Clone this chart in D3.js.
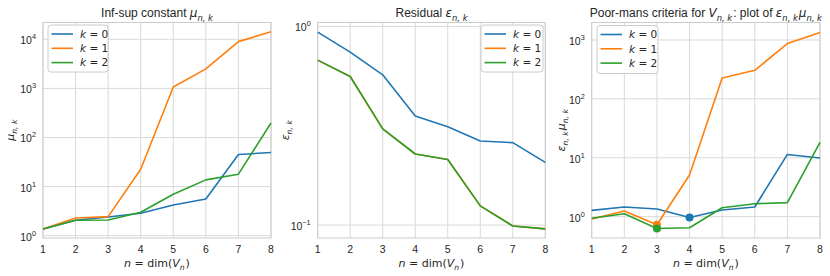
<!DOCTYPE html>
<html><head><meta charset="utf-8">
<script src="https://cdn.jsdelivr.net/npm/d3@7"></script>
<style>body{margin:0;background:#fff}svg{display:block}</style>
</head><body><svg id="c" width="830" height="276"></svg>
<script>
// ---- data ----
const nVals = [1, 2, 3, 4, 5, 6, 7, 8];
const kLabels = ["0", "1", "2"];
const mu0 = [1.37, 2.06, 2.40, 2.87, 4.23, 5.6, 45, 49.4];
const mu1 = [1.37, 2.30, 2.44, 22.6, 1070, 2500, 8960, 14200];
const mu2 = [1.37, 2.06, 2.09, 3.0, 7.0, 13.7, 17.9, 197];
const eps0 = [0.937, 0.743, 0.571, 0.354, 0.313, 0.265, 0.260, 0.207];
const eps1 = [0.677, 0.56, 0.305, 0.228, 0.214, 0.125, 0.099, 0.0957];
const eps2 = [0.677, 0.56, 0.305, 0.228, 0.214, 0.125, 0.099, 0.0957];
const prod0 = [1.28, 1.46, 1.35, 0.97, 1.30, 1.46, 11.4, 9.9];
const prod1 = [0.91, 1.25, 0.73, 5.1, 227, 306, 870, 1335];
const prod2 = [0.94, 1.12, 0.63, 0.65, 1.42, 1.66, 1.73, 18.3];
const xTicks = [1, 2, 3, 4, 5, 6, 7, 8];
const colors = ["#1f77b4", "#ff7f0e", "#2ca02c"];

const RF = "'Liberation Sans', Arial, sans-serif";
const MF = "'DejaVu Sans', sans-serif";
const TXT = "#262626";
const svg = d3.select("#c");
const yTop = 22.5, yBot = 238;

function mathText(sel, segs, fs) {
  let off = 0, prevSub = false;
  segs.forEach(s => {
    const size = (s.sub || s.sup) ? fs * 0.7 : fs;
    const target = s.sub ? fs * 0.3 : (s.sup ? -fs * 0.45 : 0);
    const ts = sel.append("tspan").text(s.t)
      .attr("font-size", size)
      .attr("font-family", s.f || MF)
      .attr("font-style", s.it ? "italic" : "normal");
    if (target !== off) { ts.attr("dy", target - off); off = target; }
    if (prevSub && !s.sub) ts.attr("dx", fs * 0.08);
    prevSub = !!s.sub;
  });
}

const panels = [
  { x0: 43, x1: 271, dom: [-0.047, 4.342], series: [mu0, mu1, mu2], ticks: [0, 1, 2, 3, 4],
    title: [{t: "Inf-sup constant ", f: RF}, {t: "μ", it: 1}, {t: "n, k", it: 1, sub: 1}],
    ylab: [{t: "μ", it: 1}, {t: "n, k", it: 1, sub: 1}], ylx: 10,
    leg: { x: 48, y: 25, w: 60, h: 47 }, markers: false },
  { x0: 317.7, x1: 545.3, dom: [-1.065, 0.02], series: [eps0, eps1, eps2], ticks: [-1, 0],
    title: [{t: "Residual ", f: RF}, {t: "ε", it: 1}, {t: "n, k", it: 1, sub: 1}],
    ylab: [{t: "ε", it: 1}, {t: "n, k", it: 1, sub: 1}], ylx: 285,
    leg: { x: 481, y: 25, w: 62, h: 47 }, markers: false },
  { x0: 591.7, x1: 820, dom: [-0.362, 3.297], series: [prod0, prod1, prod2], ticks: [0, 1, 2, 3],
    title: [{t: "Poor-mans criteria for ", f: RF}, {t: "V", it: 1}, {t: "n, k", it: 1, sub: 1}, {t: ": plot of ", f: RF}, {t: "ε", it: 1}, {t: "n, k", it: 1, sub: 1}, {t: "μ", it: 1}, {t: "n, k", it: 1, sub: 1}],
    ylab: [{t: "ε", it: 1}, {t: "n, k", it: 1, sub: 1}, {t: "μ", it: 1}, {t: "n, k", it: 1, sub: 1}], ylx: 561,
    leg: { x: 597, y: 25.5, w: 61, h: 48 }, markers: true }
];

panels.forEach(p => {
  const x = d3.scaleLinear().domain([1, 8]).range([p.x0, p.x1]);
  const y = d3.scaleLog().domain([Math.pow(10, p.dom[0]), Math.pow(10, p.dom[1])]).range([yBot, yTop]);
  const g = svg.append("g");
  g.selectAll(".vg").data(xTicks).join("line")
    .attr("x1", d => x(d)).attr("x2", d => x(d)).attr("y1", yTop).attr("y2", yBot)
    .attr("stroke", "#d9d9d9").attr("stroke-width", 1);
  g.selectAll(".hg").data(p.ticks).join("line")
    .attr("x1", p.x0).attr("x2", p.x1).attr("y1", d => y(Math.pow(10, d))).attr("y2", d => y(Math.pow(10, d)))
    .attr("stroke", "#d9d9d9").attr("stroke-width", 1);
  g.append("rect").attr("x", p.x0).attr("y", yTop).attr("width", p.x1 - p.x0).attr("height", yBot - yTop)
    .attr("fill", "none").attr("stroke", "#cccccc").attr("stroke-width", 1);
  g.selectAll(".xt").data(xTicks).join("text")
    .attr("x", d => x(d)).attr("y", yBot + 15).attr("text-anchor", "middle")
    .attr("font-family", RF).attr("font-size", 10.5).attr("fill", TXT).text(d => d);
  p.ticks.forEach(d => {
    const t = g.append("text").attr("x", p.x0 - 7).attr("y", y(Math.pow(10, d)) + 5)
      .attr("text-anchor", "end").attr("fill", TXT);
    t.append("tspan").text("10").attr("font-family", RF).attr("font-size", 10.5);
    t.append("tspan").text(d < 0 ? "\u2212" + Math.abs(d) : d).attr("font-family", RF).attr("font-size", 7.3).attr("dy", -5);
  });
  const line = d3.line().x((d, i) => x(nVals[i])).y(d => y(d));
  p.series.forEach((s, k) => {
    g.append("path").datum(s).attr("d", line).attr("fill", "none")
      .attr("stroke", colors[k]).attr("stroke-width", 1.6).attr("stroke-linejoin", "round");
  });
  if (p.markers) {
    p.series.forEach((s, k) => {
      const i = d3.minIndex(s);
      g.append("circle").attr("cx", x(nVals[i])).attr("cy", y(s[i])).attr("r", 4).attr("fill", colors[k]);
    });
  }
  const tt = g.append("text").attr("x", (p.x0 + p.x1) / 2).attr("y", 17).attr("text-anchor", "middle").attr("fill", TXT);
  mathText(tt, p.title, 12);
  const xl = g.append("text").attr("x", (p.x0 + p.x1) / 2).attr("y", 267).attr("text-anchor", "middle").attr("fill", TXT);
  mathText(xl, [{t: "n", it: 1}, {t: " = dim("}, {t: "V", it: 1}, {t: "n", it: 1, sub: 1}, {t: ")"}], 11);
  const yl = g.append("text").attr("transform", `translate(${p.ylx + 4},${(yTop + yBot) / 2}) rotate(-90)`)
    .attr("text-anchor", "middle").attr("fill", TXT);
  mathText(yl, p.ylab, 11);
  const L = p.leg;
  g.append("rect").attr("x", L.x).attr("y", L.y).attr("width", L.w).attr("height", L.h).attr("rx", 3)
    .attr("fill", "#fff").attr("fill-opacity", 0.85).attr("stroke", "#cccccc").attr("stroke-width", 1);
  kLabels.forEach((kl, k) => {
    const ry = L.y + 9 + k * 14.3;
    g.append("line").attr("x1", L.x + 3.5).attr("x2", L.x + 25).attr("y1", ry).attr("y2", ry)
      .attr("stroke", colors[k]).attr("stroke-width", 1.6);
    const lt = g.append("text").attr("x", L.x + 32).attr("y", ry + 3.8).attr("fill", TXT);
    mathText(lt, [{t: "k", it: 1}, {t: " = " + kl}], 10.5);
  });
});
</script></body></html>
